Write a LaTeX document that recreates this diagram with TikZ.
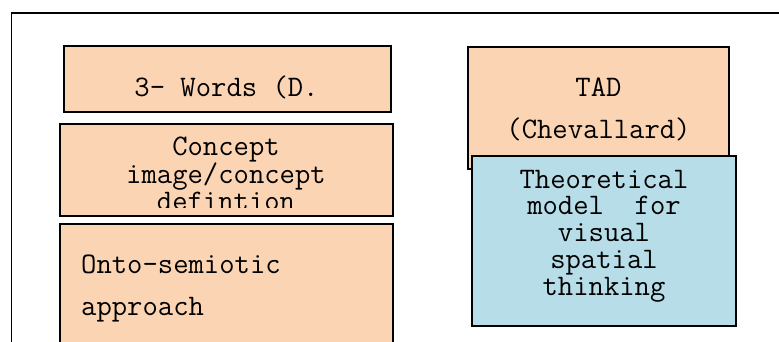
\documentclass[tikz,border=0pt]{standalone}
\usepackage{fontspec}
\begin{document}
\begin{tikzpicture}[x=1pt,y=-1pt]
\definecolor{peach}{HTML}{FBD4B4}
\definecolor{lblue}{HTML}{B7DDE8}
\tikzset{
  pbox/.style={draw=black, line width=1.5pt, fill=peach, rectangle, inner sep=0pt},
  bbox/.style={draw=black, line width=1.5pt, fill=lblue, rectangle, inner sep=0pt},
  txt/.style={font=\fontsize{29.8}{26.7}\selectfont\ttfamily, inner sep=0pt, anchor=base, align=center},
  ltxt/.style={txt, anchor=base west, align=left},
}
\clip (0,0) rectangle (779,341);
\fill[white] (0,0) rectangle (779,341);
% outer frame
\coordinate (fbl) at (11.5,360);
\coordinate (ftl) at (11.5,13);
\coordinate (ftr) at (800,13);
\draw[line width=1.5pt] (fbl) -- (ftl) -- (ftr);
% left column
\node[pbox, minimum width=327pt, minimum height=66pt] (words) at (227.5,79) {};
\node[txt] (wordst) at (226.5,96) {3- Words (D.};
\node[pbox, minimum width=333pt, minimum height=92pt] (concept) at (226.5,170) {};
\begin{scope}
\clip (61,125) rectangle (392,207);
\node[txt] (c1) at (226,210.4) {Concept\\image/concept\\defintion};
\end{scope}
\node[pbox, minimum width=333pt, minimum height=140pt] (onto) at (226.5,294) {};
\node[ltxt] (o1) at (81,315) {Onto-semiotic\\[15.3pt]approach};
% right column
\node[pbox, minimum width=261pt, minimum height=122pt] (tad) at (598.5,108) {};
\node[txt] (t1) at (598.5,138) {TAD\\[15.3pt](Chevallard)};
\node[bbox, minimum width=264pt, minimum height=170pt] (model) at (604,241) {};
\node[txt] (m1) at (604,295) {Theoretical\\model\ \ for\\visual\\spatial\\thinking};
\end{tikzpicture}
\end{document}
